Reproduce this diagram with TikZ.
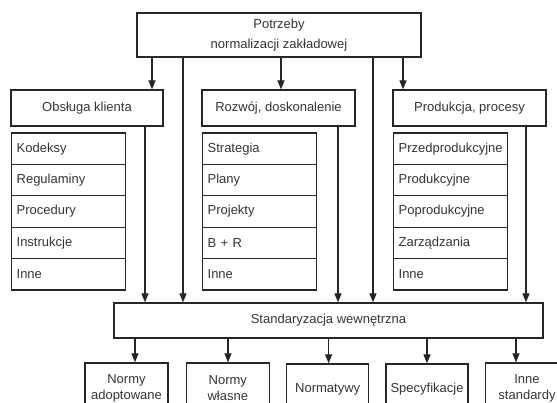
\documentclass[tikz,border=0pt]{standalone}
\usepackage{fontspec}
\setmainfont{Liberation Sans}
\usetikzlibrary{arrows.meta}
\begin{document}
\begin{tikzpicture}[x=1pt,y=-1pt,
  box/.style={draw=black!85,line width=1.3pt,text=black!80,inner sep=0pt,
    font=\fontsize{13}{16}\selectfont,align=center},
  item/.style={box,anchor=west,text width=104pt,inner xsep=5pt,align=left,minimum height=31.4pt},
  arr/.style={draw=black!85,line width=1.2pt,-{Triangle[width=7pt,length=9pt]}},
  ln/.style={draw=black!85,line width=1.2pt}]
\path[use as bounding box,clip] (0,0) rectangle (557,403);

\node[box,minimum width=284pt,minimum height=44pt] (potrzeby) at (279,35) {Potrzeby\\[3.5pt]normalizacji zakładowej};

\node[box,minimum width=152pt,minimum height=36pt] (obsluga) at (87,108) {Obsługa klienta};
\node[box,minimum width=153pt,minimum height=36pt] (rozwoj) at (278.5,108) {Rozwój, doskonalenie};
\node[box,minimum width=153pt,minimum height=36pt] (produkcja) at (469.5,108) {Produkcja, procesy};

\node[item] (kodeksy) at (11,148.7) {Kodeksy};
\node[item] (regulaminy) at (11,180.1) {Regulaminy};
\node[item] (procedury) at (11,211.5) {Procedury};
\node[item] (instrukcje) at (11,242.9) {Instrukcje};
\node[item] (inne1) at (11,274.3) {Inne};

\node[item] (strategia) at (202,148.7) {Strategia};
\node[item] (plany) at (202,180.1) {Plany};
\node[item] (projekty) at (202,211.5) {Projekty};
\node[item] (br) at (202,242.9) {B + R};
\node[item] (inne2) at (202,274.3) {Inne};

\node[item] (przedprod) at (393,148.7) {Przedprodukcyjne};
\node[item] (prod) at (393,180.1) {Produkcyjne};
\node[item] (poprod) at (393,211.5) {Poprodukcyjne};
\node[item] (zarzadzania) at (393,242.9) {Zarządzania};
\node[item] (inne3) at (393,274.3) {Inne};

\node[box,minimum width=429pt,minimum height=35pt] (std) at (328.5,320.5) {Standaryzacja wewnętrzna};

\node[box,minimum width=83pt,minimum height=50pt] (adopt) at (126.5,388) {Normy\\adoptowane};
\node[box,minimum width=83pt,minimum height=50pt] (wlasne) at (227.8,388) {Normy\\własne};
\node[box,minimum width=82pt,minimum height=50pt] (normatywy) at (327.7,389) {Normatywy};
\node[box,minimum width=82pt,minimum height=50pt] (spec) at (427,389) {Specyfikacje};
\node[box,minimum width=83pt,minimum height=50pt] (inst) at (527,388) {Inne\\standardy};

\draw[arr] (potrzeby.south -| 152,0) -- (obsluga.north -| 152,0);
\draw[arr] (potrzeby.south -| 281,0) -- (rozwoj.north -| 281,0);
\draw[arr] (potrzeby.south -| 403,0) -- (produkcja.north -| 403,0);
\draw[arr] (potrzeby.south -| 183,0) -- (std.north -| 183,0);
\draw[arr] (potrzeby.south -| 373,0) -- (std.north -| 373,0);

\draw[arr] (obsluga.south -| 145,0) -- (std.north -| 145,0);
\draw[arr] (rozwoj.south -| 338,0) -- (std.north -| 338,0);
\draw[arr] (produkcja.south -| 526,0) -- (std.north -| 526,0);

\draw[arr] (std.south -| 135,0) -- (adopt.north -| 135,0);
\draw[arr] (std.south -| 228,0) -- (wlasne.north -| 228,0);
\draw[arr] (std.south -| 328.6,0) -- (normatywy.north -| 328.6,0);
\draw[arr] (std.south -| 427,0) -- (spec.north -| 427,0);
\draw[arr] (std.south -| 516,0) -- (inst.north -| 516,0);
\end{tikzpicture}
\end{document}
